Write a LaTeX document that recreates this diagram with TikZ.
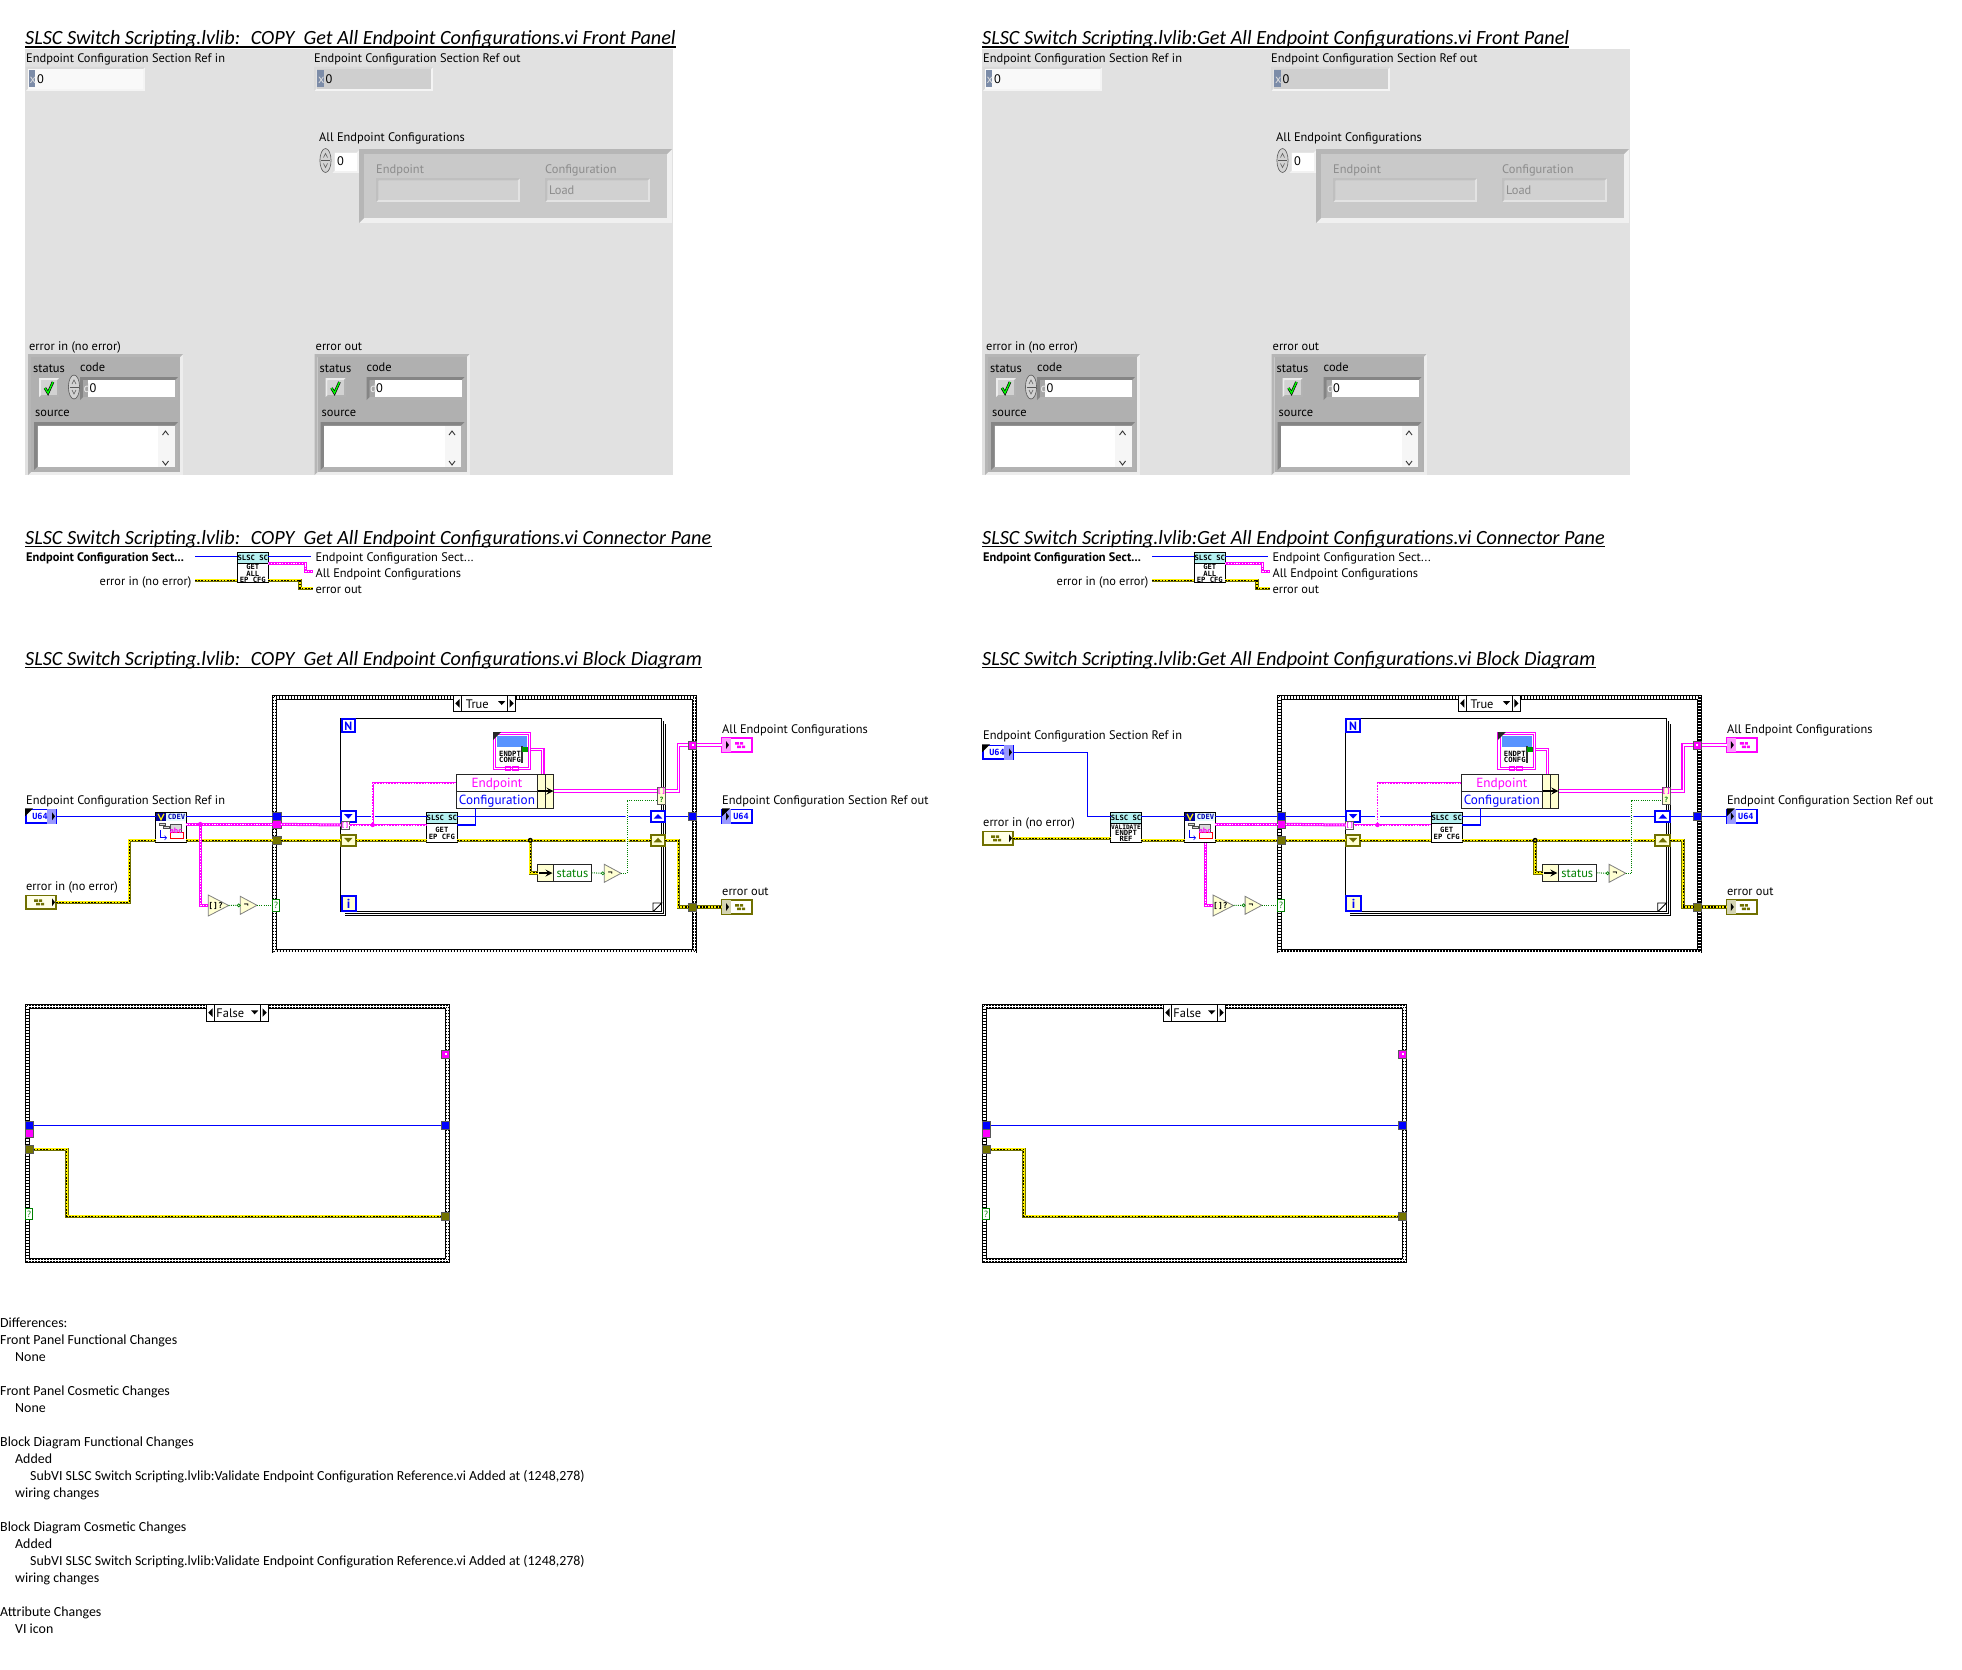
\documentclass[tikz,border=0pt]{standalone}
\usepackage{fontspec}
\setmonofont{DejaVu Sans Mono}
\newfontfamily\lvfont{PT Sans}
\newfontfamily\capfont{Carlito}
\usetikzlibrary{calc}

\definecolor{panelgray}{HTML}{E1E1E1}
\definecolor{clusgray}{HTML}{B0B0B0}
\definecolor{darkbevel}{HTML}{858585}
\definecolor{olivewire}{HTML}{707000}
\definecolor{olivetun}{HTML}{747400}
\definecolor{paleyel}{HTML}{FFFFD2}
\definecolor{wirepink}{HTML}{FF00FF}
\definecolor{wireblue}{HTML}{0000FF}
\definecolor{wiregreen}{HTML}{008000}
\definecolor{iconcyan}{HTML}{B4F0F0}
\definecolor{radix}{HTML}{7C8CA8}

\tikzset{
  lab/.style={anchor=base west,inner sep=0,yshift=-4pt,font=\lvfont\fontsize{12.4}{14}\selectfont},
  labr/.style={lab,anchor=base east},
  lablt/.style={lab,text=gray!90},
  captxt/.style={anchor=base west,inner sep=0,font=\capfont\itshape\fontsize{20.2}{24}\selectfont},
  bluewire/.style={draw=wireblue,line width=1.1pt},
  errwire/.style={draw=olivewire,line width=3.6pt,postaction={draw=yellow,line width=2pt},postaction={draw=black,line width=1.1pt,dash pattern=on 1.6pt off 1.6pt}},
  pinkwire/.style={draw=wirepink,line width=3pt,postaction={draw=white,line width=1pt,dash pattern=on 1.2pt off 1.6pt}},
  pinkthin/.style={draw=wirepink,line width=1.9pt,postaction={draw=white,line width=.6pt,dash pattern=on 1.2pt off 1.6pt}},
  pinkfat/.style={draw=wirepink,line width=3.6pt,postaction={draw=white,line width=1.2pt}},
  greenwire/.style={draw=wiregreen,line width=1pt,dash pattern=on 1pt off 1.2pt},
  tunnel/.style={draw=gray!70!black,line width=.8pt,minimum width=8.4pt,minimum height=8pt,inner sep=0,outer sep=0},
  shiftreg/.style={draw=#1,line width=2pt,fill=white,minimum width=14.7pt,minimum height=11pt,inner sep=0,outer sep=0},
  termbox/.style={draw=#1,line width=1.8pt,fill=white,minimum width=30pt,minimum height=13.6pt,inner sep=0,outer sep=0},
  vibox/.style={draw=black,line width=1pt,fill=white,minimum width=30.7pt,minimum height=30pt,inner sep=0,outer sep=0},
  vitxt/.style={inner sep=0,align=center,font=\ttfamily\bfseries\fontsize{7.2}{6.2}\selectfont},
  bunpart/.style={draw=gray!30!black,line width=.9pt,fill=white,inner sep=0,outer sep=0,minimum width=81.4pt,text height=9.5pt,text depth=1pt,font=\lvfont\fontsize{13.2}{16}\selectfont},
  chk/.style={line width=1.3pt,black,dash pattern=on 1.5pt off 1.5pt},
  primsty/.style={draw=gray,line width=.8pt,fill=paleyel}
}

% raised or sunken box: x1 y1 x2 y2 edge fill dark light
\newcommand{\bevel}[8]{%
  \fill[#8] (#1,#2) rectangle (#3,#4);
  \fill[#7] (#1,#2) -- (#3,#2) -- (#3-#5,#2+#5) -- (#1+#5,#2+#5) -- (#1+#5,#4-#5) -- (#1,#4) -- cycle;
  \fill[#6] (#1+#5,#2+#5) rectangle (#3-#5,#4-#5);
}
\newcommand{\spinner}[2]{%
  \draw[gray!70!black,line width=.6pt,fill=gray!35] (#1,#2) ellipse (5.6pt and 12pt);
  \draw[gray!70!black,line width=.5pt] (#1-4.5,#2) -- (#1+4.5,#2);
  \draw[gray!70!black,line width=.6pt] (#1-2,#2-3) -- (#1,#2-7) -- (#1+2,#2-3) (#1-2,#2+3) -- (#1,#2+7) -- (#1+2,#2+3);
}
\newcommand{\pagetitle}[4]{%
  \node[captxt] (#1) at (#2,#3) {#4};
  \draw[line width=1.6pt] ($(#1.base west)+(0,2)$) -- ($(#1.base east)+(0,2)$);
}
\newcommand{\errcluster}[3]{% name, label, shift
  \begin{scope}[shift={(#3,0)}]
  \node[lab] (#1lbl) at (29,346) {#2};
  \bevel{28}{354}{183}{475}{3}{clusgray}{darkbevel!60}{panelgray!60!white}
  \node[lab] (#1st) at (33,368) {status};
  \node[lab] (#1cd) at (80,367) {code};
  \bevel{39}{378}{59}{397}{2}{gray!35}{gray!15}{gray!60}
  \draw[black,line width=2.6pt] (45,388) -- (48,393) -- (53,382);
  \draw[green,line width=1.3pt] (45,388) -- (48,393) -- (53,382);
  \bevel{80}{377}{178}{400}{3}{gray!70}{darkbevel}{gray!60}
  \fill[white] (88,380) rectangle (175,397);
  \node[lab,text=gray!15] (#1d) at (83.5,388.5) {d};
  \node[lab] (#1val) at (89.5,388.5) {0};
  \node[lab] (#1src) at (35,412) {source};
  \bevel{34}{422}{178}{470}{3.5}{white}{darkbevel}{gray!60}
  \fill[gray!7] (158,425.5) rectangle (174.5,466.5);
  \draw[line width=.9pt,gray!40!black] (162.5,435) -- (165.5,431) -- (168.5,435) (162.5,461) -- (165.5,465) -- (168.5,461);
  \end{scope}
}
\newcommand{\frontpanel}{%
  \fill[panelgray] (25,49) rectangle (673,475);
  \node[lab] (lblRefIn) at (26,59) {Endpoint Configuration Section Ref in};
  \bevel{25.5}{67}{145}{91}{2.5}{gray!5}{gray!30}{gray!9}
  \fill[radix] (28.5,70) rectangle (35,87);
  \node[lab,text=gray!25] (radIn) at (29.5,79) {x};
  \node[lab] (valIn) at (37,79) {0};
  \node[lab] (lblRefOut) at (314,59) {Endpoint Configuration Section Ref out};
  \bevel{314}{67}{433}{91}{2.5}{gray!38}{gray!30}{gray!9}
  \fill[radix] (317,70) rectangle (323.5,87);
  \node[lab,text=gray!25] (radOut) at (318,79) {x};
  \node[lab] (valOut) at (325.5,79) {0};
  \node[lab] (lblAll) at (319,137) {All Endpoint Configurations};
  \bevel{332}{150}{359}{173}{2.5}{white}{gray!25}{gray!10}
  \spinner{325.5}{160.5}
  \node[lab] (valIdx) at (337,161) {0};
  \bevel{359}{149}{672}{223}{5}{gray!42}{gray!57}{gray!12}
  \node[lablt] (lblEp) at (376,169) {Endpoint};
  \node[lablt] (lblCf) at (545,169) {Configuration};
  \bevel{376}{178}{520}{202}{2.5}{gray!36}{gray!50}{gray!22}
  \bevel{545}{178}{650}{202}{2.5}{gray!36}{gray!50}{gray!22}
  \node[lablt] (valLoad) at (549,190) {Load};
  \errcluster{eIn}{error in (no error)}{0}
  \spinner{74}{387}
  \errcluster{eOut}{error out}{286.5}
}
\newcommand{\connpane}{%
  \node[lab,font=\lvfont\bfseries\fontsize{12.4}{14}\selectfont] (cpIn) at (26,557) {Endpoint Configuration Sect...};
  \node[labr] (cpErr) at (191.5,581) {error in (no error)};
  \node[vibox] (cpIcon) at (252.8,567.8) {};
  \node[vitxt] (cpIconTxt) at (252.8,573.5) {GET\\ALL\\EP CFG};
  \fill[iconcyan] (238,553) rectangle (268,563);
  \draw[line width=.8pt] (237.5,563.3) -- (268.3,563.3);
  \node[vitxt] (cpIconTop) at (252.8,558) {SLSC SC};
  \node[lab] (cpOutA) at (315.3,557) {Endpoint Configuration Sect...};
  \node[lab] (cpOutB) at (315.3,573) {All Endpoint Configurations};
  \node[lab] (cpOutC) at (315.3,589) {error out};
  \draw[bluewire] (195,556.3) -- (cpIcon.west |- 0,556.3);
  \draw[errwire] (195,580.3) -- (cpIcon.west |- 0,580.3);
  \draw[bluewire] (cpIcon.east |- 0,556.3) -- (310.7,556.3);
  \draw[pinkwire] (cpIcon.east |- 0,563.7) -| (305.7,571.7) -- (312.6,571.7);
  \draw[errwire] (cpIcon.east |- 0,580.3) -| (300,588.3) -- (312.6,588.3);
}
\newcommand{\caseframe}[4]{%
  \draw[line width=4.6pt,black,fill=white] (#1+2.2,#2+2.2) rectangle (#3-2.2,#4-2.2);
  \draw[line width=3pt,white] (#1+2.2,#2+2.2) rectangle (#3-2.2,#4-2.2);
  \draw[chk] (#1+1.5,#2+1.5) rectangle (#3-1.5,#4-1.5);
  \draw[chk,dash phase=1.5pt] (#1+3,#2+3) rectangle (#3-3,#4-3);
}
\newcommand{\caseselect}[4]{% name x y text
  \node[draw=black,line width=1pt,fill=white,minimum width=62.4pt,minimum height=16.7pt,inner sep=0,outer sep=0] (#1) at (#2+31.2,#3+8.35) {};
  \draw[line width=1pt] (#2+8.4,#3) -- (#2+8.4,#3+16.7) (#2+54.4,#3) -- (#2+54.4,#3+16.7);
  \node[lab,anchor=base] (#1txt) at (#2+24,#3+9.6) {#4};
  \fill (#2+6.2,#3+4) -- ++(-4.2,4.3) -- ++(4.2,4.3) -- cycle;
  \fill (#2+56.2,#3+4) -- ++(4.2,4.3) -- ++(-4.2,4.3) -- cycle;
  \fill (#2+44.7,#3+6) -- ++(7.4,0) -- ++(-3.7,4) -- cycle;
}
\newcommand{\slscicon}[4]{% name x y text
  \node[vibox] (#1) at (#2,#3) {};
  \node[vitxt] (#1txt) at (#2,#3+5.5) {#4};
  \fill[iconcyan] (#2-15,#3-15) rectangle (#2+15,#3-5);
  \draw[line width=.8pt] (#2-15.3,#3-4.7) -- (#2+15.3,#3-4.7);
  \node[vitxt] (#1top) at (#2,#3-10) {SLSC SC};
}
\newcommand{\cdevicon}[3]{% name x y
  \node[vibox] (#1) at (#2,#3) {};
  \fill[iconcyan!35] (#2+-15,#3-15) rectangle (#2+15,#3-7);
  \fill[wireblue!60!black] (#2-15,#3-15) rectangle (#2-5,#3-7);
  \draw[yellow,line width=1.2pt] (#2-13,#3-14) -- (#2-10,#3-8) -- (#2-7,#3-14);
  \node[vitxt,text=wireblue!70!black] (#1top) at (#2+5.5,#3-10.7) {CDEV};
  \draw[gray!60!black,fill=gray!30,line width=.5pt] (#2-12,#3-5) rectangle (#2-6,#3-2.5) (#2-8,#3-2) rectangle (#2-2,#3+.5) (#2-1,#3-3.5) rectangle (#2+10,#3+4);
  \draw[wireblue,line width=.8pt,->] (#2-11,#3+2) |- (#2-4,#3+10);
  \draw[red,line width=1pt,fill=white] (#2-1,#3+5) rectangle (#2+12,#3+11);
  \node[vitxt,text=wirepink] (#1abc) at (#2+5,#3+2.7) {abc};
}
\newcommand{\prim}[6]{% name x1 y1 x2 y2 text
  \draw[primsty] (#2,#3) -- (#4,{(#3+#5)/2}) -- (#2,#5) -- cycle;
  \coordinate (#1in) at (#2,{(#3+#5)/2});
  \coordinate (#1out) at (#4,{(#3+#5)/2});
  \node[vitxt,font=\ttfamily\bfseries\fontsize{8}{8}\selectfont] (#1) at ({#2+(#4-#2)*.36},{(#3+#5)/2}) {#6};
}
\newcommand{\clusterglyph}[3]{%
  \fill[#3] (#1-6,#2-3) rectangle (#1-2,#2-.5) (#1-1,#2-3) rectangle (#1+2,#2-.5) (#1-4,#2+.5) rectangle (#1,#2+3) (#1+1,#2+.5) rectangle (#1+4,#2+3);
}
\newcommand{\truecase}{%
  \caseframe{272.3}{695}{696.7}{953.3}
  \caseselect{sel}{453.3}{695}{True}
  % stacked for loop
  \draw[line width=.9pt] (650,915.3) -| (665.7,724) (345,915.3) -- (650,915.3);
  \draw[line width=.9pt] (345,913.5) -| (663.7,721);
  \draw[line width=1.2pt,fill=white] (340.7,718.3) rectangle (661.7,911.7);
  \draw[line width=.8pt] (653,911.7) -- (661.7,903) -- (653,903) -- (653,911.7);
  \node[draw=wireblue,line width=2pt,fill=white,minimum width=13.4pt,minimum height=13pt,inner sep=0,outer sep=0,text=wireblue,font=\lvfont\bfseries\fontsize{12}{12}\selectfont] (loopN) at (348.3,725.8) {N};
  \node[draw=wireblue,line width=2pt,fill=paleyel,minimum width=14.2pt,minimum height=14.7pt,inner sep=0,outer sep=0,text=wireblue,font=\lvfont\bfseries\fontsize{13}{13}\selectfont] (loopI) at (348.7,903.4) {i};
  % tunnels on the case border
  \node[tunnel,fill=wireblue] (tBlue) at (276.7,816.3) {};
  \node[tunnel,fill=wirepink] (tPink) at (276.7,824.3) {};
  \node[tunnel,fill=olivetun] (tErr) at (276.7,840.3) {};
  \node[draw=wiregreen,line width=.8pt,fill=white,minimum width=7.2pt,minimum height=11.4pt,inner sep=0,outer sep=0,text=wiregreen,font=\lvfont\fontsize{9}{9}\selectfont] (tSel) at (276.2,905.3) {?};
  \node[tunnel,fill=wirepink] (tOutPink) at (692.5,745) {};
  \fill[white] (691.5,744) rectangle (693.5,746);
  \node[tunnel,fill=wireblue] (tOutBlue) at (692.5,816.3) {};
  \node[tunnel,fill=olivetun] (tOutErr) at (692.5,907) {};
  % loop borders
  \node[shiftreg=wireblue] (sBlueL) at (348.3,816.3) {};
  \fill[wireblue] (344,814) -- ++(8.6,0) -- ++(-4.3,4.6) -- cycle;
  \node[shiftreg=olivewire,fill=paleyel] (sErrL) at (348.3,840) {};
  \fill[olivewire] (344,837.8) -- ++(8.6,0) -- ++(-4.3,4.6) -- cycle;
  \node[draw=gray!70!black,line width=.8pt,fill=white,minimum width=8pt,minimum height=8pt,inner sep=0,outer sep=0,text=wirepink,font=\ttfamily\bfseries\fontsize{6.5}{6.5}\selectfont] (sIdx) at (345,825) {[]};
  \node[shiftreg=wireblue] (sBlueR) at (658,816.3) {};
  \fill[wireblue] (653.7,818.6) -- ++(8.6,0) -- ++(-4.3,-4.6) -- cycle;
  \node[shiftreg=olivewire,fill=paleyel] (sErrR) at (658,840) {};
  \fill[olivewire] (653.7,842.3) -- ++(8.6,0) -- ++(-4.3,-4.6) -- cycle;
  \node[draw=gray!70!black,line width=.8pt,fill=paleyel,minimum width=8.4pt,minimum height=17.4pt,inner sep=0,outer sep=0] (tCond) at (661.5,796) {};
  \node[vitxt,text=wirepink] (tCondA) at (661.5,791.5) {[]};
  \node[vitxt,text=wiregreen] (tCondB) at (661.5,800) {?};
  % subVI and bundle parts
  \slscicon{getIcon}{441.9}{827.8}{GET\\EP CFG}
  \node[bunpart,text=wirepink,minimum height=17pt] (bunEnd) at (497,782.8) {Endpoint};
  \node[bunpart,text=wireblue,minimum height=17pt] (bunCfg) at (497,799.8) {Configuration};
  \draw[line width=.9pt,fill=paleyel,draw=gray!30!black] (537.7,774.3) rectangle (553.7,808.3);
  \draw[line width=.9pt,gray!30!black] (545.7,774.3) -- (545.7,808.3);
  \coordinate (bunOut) at (553.7,791);
  \draw[line width=2pt,-stealth] (538,791) -- (553.5,791);
  \node[bunpart,minimum width=54pt,minimum height=17pt] (unb) at (564.7,872.8) {};
  \node[lab,text=wiregreen,anchor=base] (unbTxt) at (572.5,873.5) {status};
  \draw[line width=.9pt,fill=paleyel,draw=gray!30!black] (537.7,864.3) rectangle (553.7,881.3);
  \draw[line width=2pt,-stealth] (539,873) -- (552.5,873);
  % constant
  \draw[wirepink,line width=1pt,fill=white] (493,732) rectangle (530.7,769.3);
  \draw[wirepink,line width=1pt] (495.2,734.2) rectangle (528.5,767.1);
  \fill[white] (496,735) rectangle (527.7,766.3);
  \fill[gray!30!black] (493,732) -- (501,732) -- (493,740) -- cycle;
  \fill[blue!65!cyan!65] (497.3,736) rectangle (527,746.7);
  \node[vitxt] (cstTxt) at (510,757) {ENDPT\\CONFG};
  \draw[gray!40!black,line width=2pt] (522,746) -- (522,763);
  \fill[green!60!black] (522,747) rectangle (528,752);
  \draw[wirepink,line width=.8pt] (505,766) rectangle (510,770) (512,766) rectangle (518,770);
  % output terminals
  \node[lab] (lblAll) at (722,729) {All Endpoint Configurations};
  \node[lab] (lblRefOut) at (722,800) {Endpoint Configuration Section Ref out};
  \node[lab] (lblErrOut) at (722,891) {error out};
  \node[termbox=wirepink] (termAll) at (737,745) {};
  \fill[wirepink!40] (722,738) rectangle (731,752);
  \clusterglyph{741}{745}{wirepink}
  \fill (726,741) -- ++(3,4) -- ++(-3,4) -- cycle;
  \node[termbox=wireblue] (termRef) at (737,816.3) {};
  \fill[wireblue!40] (722,809) rectangle (731,823.5);
  \fill (722,808.3) -- (730,808.3) -- (722,816.3) -- cycle;
  \node[vitxt,text=wireblue,font=\ttfamily\bfseries\fontsize{8.5}{8}\selectfont] (termRefTxt) at (741,816.5) {U64};
  \fill (726,812.3) -- ++(3,4) -- ++(-3,4) -- cycle;
  \node[termbox=olivewire] (termErr) at (737,907) {};
  \fill[olivewire!30] (722,900) rectangle (731,914);
  \clusterglyph{741}{907}{olivewire}
  \fill (726,903) -- ++(3,4) -- ++(-3,4) -- cycle;
  % primitives
  \prim{empty}{208.3}{895}{228.7}{916}{[]?}
  \prim{notA}{240.3}{896.3}{257}{914.3}{\textlnot}
  \prim{notB}{604.3}{864.3}{621}{882.3}{\textlnot}
  % wires
  \draw[bluewire] (tBlue.east) -- (sBlueL.west);
  \draw[bluewire] (sBlueL.east) -- (getIcon.west |- sBlueL);
  \draw[bluewire] (getIcon.east |- sBlueL) -- (sBlueR.west);
  \draw[bluewire] (sBlueR.east) -- (tOutBlue.west);
  \draw[bluewire] (tOutBlue.east) -- (termRef.west);
  \draw[bluewire] (getIcon.east |- sIdx) -| (475.3,808.3);
  \fill[white] (370.5,814.5) rectangle (375,818.5);
  \draw[pinkwire] (tPink.east) -- (sIdx.west);
  \draw[pinkthin] (sIdx.east) -- (getIcon.west |- sIdx);
  \draw[pinkthin] (372.7,824.3) |- (bunEnd.west);
  \fill[wirepink] (372.7,825) circle (2.2pt);
  \draw[errwire] (tErr.east) -- (sErrL.west |- tErr);
  \draw[errwire] (sErrL.east |- tErr) -- (getIcon.west |- tErr);
  \draw[errwire] (getIcon.east |- tErr) -- (sErrR.west |- tErr);
  \draw[errwire] (530.3,840.3) |- (unb.west);
  \fill[black] (530.3,840.3) circle (2.5pt);
  \fill[yellow] (530.3,840.3) circle (1pt);
  \draw[errwire] (sErrR.east |- tErr) -| (678.3,907) -- (tOutErr.west);
  \draw[errwire] (tOutErr.east) -- (termErr.west);
  \draw[pinkfat] (bunOut) -- (tCond.west |- bunOut);
  \draw[pinkfat] (tCond.east |- bunOut) -| (678.3,745) -- (tOutPink.west);
  \draw[pinkfat] (tOutPink.east) -- (termAll.west);
  \draw[pinkfat] (530.7,749.3) -| (542.7,774.3);
  \fill[white] (625.5,814.5) rectangle (628.5,818.5) (625.5,837.5) rectangle (628.5,843);
  \draw[greenwire] (unb.east) -- (notBin);
  \draw[greenwire] (notBout) -- (627,873.3) |- (tCond.west |- 0,800);
  \draw[wiregreen,line width=.7pt,fill=white] (602.8,873.3) circle (1.5pt);
  \draw[greenwire] (emptyout) -- (notAin);
  \draw[wiregreen,line width=.7pt,fill=white] (238.8,905.3) circle (1.5pt);
  \draw[greenwire] (notAout) -- (tSel.west);
}
\newcommand{\falsecase}{%
  \caseframe{25}{1004.3}{449.7}{1262.7}
  \caseselect{fsel}{206.3}{1004.3}{False}
  \node[tunnel,fill=wireblue] (fBlueL) at (29.4,1125.3) {};
  \node[tunnel,fill=wirepink] (fPinkL) at (29.4,1133.3) {};
  \node[tunnel,fill=olivetun] (fErrL) at (29.4,1149.3) {};
  \node[draw=wiregreen,line width=.8pt,fill=white,minimum width=7.2pt,minimum height=11.4pt,inner sep=0,outer sep=0,text=wiregreen,font=\lvfont\fontsize{9}{9}\selectfont] (fSel) at (29,1214) {?};
  \node[tunnel,fill=wirepink] (fPinkR) at (445.5,1054.3) {};
  \fill[white] (444.5,1053.3) rectangle (446.5,1055.3);
  \node[tunnel,fill=wireblue] (fBlueR) at (445.5,1125.3) {};
  \node[tunnel,fill=olivetun] (fErrR) at (445.5,1216.3) {};
  \draw[bluewire] (fBlueL.east) -- (fBlueR.west);
  \draw[errwire] (fErrL.east) -| (66.7,1216.3) -- (fErrR.west);
}

\begin{document}
\begin{tikzpicture}[x=1pt,y=-1pt]
\useasboundingbox (0,0) rectangle (1962,1670);

\begin{scope}[name prefix=L-]
\pagetitle{fpTitle}{25}{44.8}{SLSC Switch Scripting.lvlib:~ COPY~ Get All Endpoint Configurations.vi Front Panel}
\frontpanel
\pagetitle{cpTitle}{25}{544.6}{SLSC Switch Scripting.lvlib:~ COPY~ Get All Endpoint Configurations.vi Connector Pane}
\connpane
\pagetitle{bdTitle}{25}{665.6}{SLSC Switch Scripting.lvlib:~ COPY~ Get All Endpoint Configurations.vi Block Diagram}
\truecase
\falsecase
% left hand wiring
\node[lab] (lblRefIn) at (26,800) {Endpoint Configuration Section Ref in};
\node[lab] (lblErrIn) at (26,886) {error in (no error)};
\node[termbox=wireblue] (termRefIn) at (41,816.3) {};
\fill[wireblue!40] (47,809) rectangle (56,823.5);
\fill (25,808.3) -- (33,808.3) -- (25,816.3) -- cycle;
\node[vitxt,text=wireblue,font=\ttfamily\bfseries\fontsize{8.5}{8}\selectfont] (termRefInTxt) at (40,816.5) {U64};
\fill (52,812.3) -- ++(3,4) -- ++(-3,4) -- cycle;
\node[termbox=olivewire,fill=paleyel!50] (termErrIn) at (41,902.3) {};
\clusterglyph{40}{902.3}{olivewire}
\fill (52,898.3) -- ++(3,4) -- ++(-3,4) -- cycle;
\cdevicon{cdev}{171}{827.8}
\draw[bluewire] (termRefIn.east) -- (cdev.west |- termRefIn);
\draw[errwire] (termErrIn.east) -| (129.3,840.3) -- (cdev.west |- tErr);
\draw[bluewire] (cdev.east |- tBlue) -- (tBlue.west);
\draw[errwire] (cdev.east |- tErr) -- (tErr.west);
\draw[pinkwire] (cdev.east |- tPink) -- (tPink.west);
\draw[pinkwire] (200.3,824.3) |- (emptyin);
\fill[wirepink] (200.3,824.3) circle (2.4pt);
\end{scope}

\begin{scope}[name prefix=R-]
\pagetitle{fpTitle}{982}{44.8}{SLSC Switch Scripting.lvlib:Get All Endpoint Configurations.vi Front Panel}
\pagetitle{cpTitle}{982}{544.6}{SLSC Switch Scripting.lvlib:Get All Endpoint Configurations.vi Connector Pane}
\pagetitle{bdTitle}{982}{665.6}{SLSC Switch Scripting.lvlib:Get All Endpoint Configurations.vi Block Diagram}
\begin{scope}[shift={(957,0)}]
\frontpanel
\connpane
\falsecase
\end{scope}
\begin{scope}[shift={(1004.8,0)}]
\truecase
\end{scope}
% right hand wiring
\node[lab] (lblRefIn) at (983,735.7) {Endpoint Configuration Section Ref in};
\node[lab] (lblErrIn) at (983,822) {error in (no error)};
\node[termbox=wireblue] (termRefIn) at (998,752.3) {};
\fill[wireblue!40] (1004,745) rectangle (1013,759.5);
\fill (982,744.3) -- (990,744.3) -- (982,752.3) -- cycle;
\node[vitxt,text=wireblue,font=\ttfamily\bfseries\fontsize{8.5}{8}\selectfont] (termRefInTxt) at (997,752.5) {U64};
\fill (1009,748.3) -- ++(3,4) -- ++(-3,4) -- cycle;
\node[termbox=olivewire,fill=paleyel!50] (termErrIn) at (998,838.3) {};
\clusterglyph{997}{838.3}{olivewire}
\fill (1009,834.3) -- ++(3,4) -- ++(-3,4) -- cycle;
\slscicon{valIcon}{1126}{827.8}{\fontsize{6.2}{6.2}\selectfont VALIDATE\\ENDPT\\REF}
\cdevicon{cdev}{1200}{827.8}
\draw[bluewire] (termRefIn.east) -| (1087.7,816.3) -- (valIcon.west |- tBlue);
\draw[errwire] (termErrIn.east) -- (valIcon.west |- termErrIn);
\draw[bluewire] (valIcon.east |- tBlue) -- (cdev.west |- tBlue);
\draw[errwire] (valIcon.east |- tErr) -- (cdev.west |- tErr);
\draw[bluewire] (cdev.east |- tBlue) -- (tBlue.west);
\draw[errwire] (cdev.east |- tErr) -- (tErr.west);
\draw[pinkwire] (cdev.east |- tPink) -- (tPink.west);
\draw[pinkwire] (1205.7,843.3) |- (emptyin);
\end{scope}

\node[anchor=north west,inner sep=0,align=left,font=\capfont\fontsize{13.9}{17}\selectfont] (diffText) at (0,1317.5) {%
Differences:\\
Front Panel Functional Changes\\
\hspace*{15pt}None\\
~\\
Front Panel Cosmetic Changes\\
\hspace*{15pt}None\\
~\\
Block Diagram Functional Changes\\
\hspace*{15pt}Added\\
\hspace*{30pt}SubVI SLSC Switch Scripting.lvlib:Validate Endpoint Configuration Reference.vi Added at (1248,278)\\
\hspace*{15pt}wiring changes\\
~\\
Block Diagram Cosmetic Changes\\
\hspace*{15pt}Added\\
\hspace*{30pt}SubVI SLSC Switch Scripting.lvlib:Validate Endpoint Configuration Reference.vi Added at (1248,278)\\
\hspace*{15pt}wiring changes\\
~\\
Attribute Changes\\
\hspace*{15pt}VI icon};
\end{tikzpicture}
\end{document}
